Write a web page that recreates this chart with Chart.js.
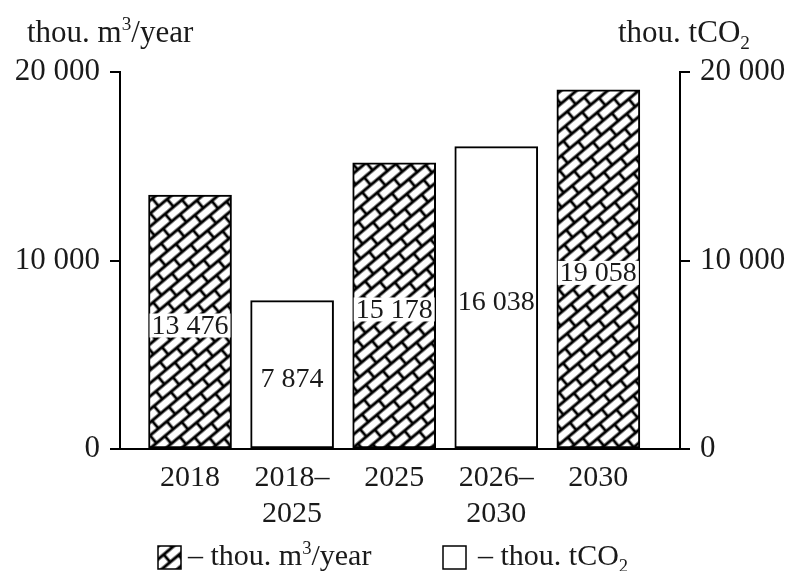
<!DOCTYPE html>
<html>
<head>
<meta charset="utf-8">
<script src="https://cdn.jsdelivr.net/npm/chart.js@4/dist/chart.umd.min.js"></script>
<style>
  html, body { margin: 0; padding: 0; background: #fff; }
  #wrap { width: 791px; height: 571px; }
</style>
</head>
<body>
<div id="wrap"><canvas id="chart" width="791" height="571"></canvas></div>
<script>
// data
const categories = ["2018", "2018–2025", "2025", "2026–2030", "2030"];
const volumeValues = [13476, null, 15178, null, 19058]; // thou. m3/year (hatched)
const co2Values = [null, 7874, null, 16038, null]; // thou. tCO2 (white)
const yTicks = [0, 10000, 20000];

const FONT = "'Liberation Serif', 'Times New Roman', serif";

// brick hatch pattern
function makeBrickPattern() {
  const c = document.createElement("canvas");
  const W = 22, H = 20;
  c.width = W;
  c.height = H;
  const g = c.getContext("2d");
  g.fillStyle = "#fff";
  g.fillRect(0, 0, W, H);
  g.strokeStyle = "#000";
  g.lineWidth = 2.8;
  g.beginPath();
  // long lines between brick rows
  g.moveTo(0, 0); g.lineTo(W, 0);
  g.moveTo(0, H / 2); g.lineTo(W, H / 2);
  g.moveTo(0, H); g.lineTo(W, H);
  // staggered joints
  g.moveTo(0, 0); g.lineTo(0, H / 2);
  g.moveTo(W, 0); g.lineTo(W, H / 2);
  g.moveTo(W / 2, H / 2); g.lineTo(W / 2, H);
  g.stroke();
  const ctx = document.getElementById("chart").getContext("2d");
  const p = ctx.createPattern(c, "repeat");
  p.setTransform(new DOMMatrix().rotate(-40));
  return p;
}
const brick = makeBrickPattern();

function fmt(v) {
  return String(v).replace(/\B(?=(\d{3})+(?!\d))/g, " ");
}

function toPoints(arr) {
  const out = [];
  arr.forEach((v, i) => {
    if (v !== null) out.push({ x: i, y: v });
  });
  return out;
}

// text with super/subscripts
function drawRich(ctx, parts, x, y, size) {
  let cx = x;
  parts.forEach((p) => {
    const s = p.sup || p.sub ? size * 0.62 : size;
    ctx.font = s + "px " + FONT;
    let dy = 0;
    if (p.sup) dy = -size * 0.38;
    if (p.sub) dy = size * 0.22;
    ctx.fillText(p.t, cx, y + dy);
    cx += ctx.measureText(p.t).width;
  });
}

const extrasPlugin = {
  id: "extras",
  afterDatasetsDraw(chart) {
    const ctx = chart.ctx;
    ctx.save();
    ctx.textAlign = "center";
    ctx.textBaseline = "middle";
    ctx.font = "28px " + FONT;
    chart.data.datasets.forEach((ds, di) => {
      const meta = chart.getDatasetMeta(di);
      meta.data.forEach((bar, i) => {
        const v = ds.data[i].y;
        const txt = fmt(v);
        const cy = (bar.y + bar.base) / 2 + 4;
        if (di === 0) {
          const w = ctx.measureText(txt).width + 4;
          ctx.fillStyle = "#fff";
          ctx.fillRect(bar.x - w / 2, cy - 12, w, 24);
        }
        ctx.fillStyle = "#1a1a1a";
        ctx.fillText(txt, bar.x, cy + 1);
      });
    });
    ctx.restore();
  },
  afterDraw(chart) {
    const ctx = chart.ctx;
    ctx.save();
    ctx.fillStyle = "#1a1a1a";
    ctx.textAlign = "left";
    ctx.textBaseline = "alphabetic";
    // axis titles
    drawRich(ctx, [{ t: "thou. m" }, { t: "3", sup: true }, { t: "/year" }], 27, 42, 31);
    drawRich(ctx, [{ t: "thou. tCO" }, { t: "2", sub: true }], 618, 42, 31);
    // legend
    ctx.lineWidth = 1.5;
    ctx.strokeStyle = "#000";
    ctx.fillStyle = brick;
    ctx.fillRect(158, 546, 23, 23);
    ctx.strokeRect(158, 546, 23, 23);
    ctx.fillStyle = "#fff";
    ctx.fillRect(443, 546, 23, 23);
    ctx.strokeRect(443, 546, 23, 23);
    ctx.fillStyle = "#1a1a1a";
    drawRich(ctx, [{ t: "– thou. m" }, { t: "3", sup: true }, { t: "/year" }], 188, 565, 30);
    drawRich(ctx, [{ t: "– thou. tCO" }, { t: "2", sub: true }], 478, 565, 30);
    ctx.restore();
  },
};

const yAxis = (pos, width) => ({
  position: pos,
  min: 0,
  max: 20000,
  afterBuildTicks: (s) => { s.ticks = yTicks.map((v) => ({ value: v })); },
  afterFit: (s) => { s.width = width; },
  ticks: {
    color: "#1a1a1a",
    font: { family: FONT, size: 31 },
    padding: 10,
    callback: (v) => fmt(v),
  },
  grid: { display: true, drawOnChartArea: false, drawTicks: true, tickLength: 10, color: "#000", lineWidth: 2 },
  border: { display: true, color: "#000", width: 2 },
});

new Chart(document.getElementById("chart"), {
  type: "bar",
  data: {
    datasets: [
      {
        label: "thou. m3/year",
        data: toPoints(volumeValues),
        yAxisID: "y",
        backgroundColor: brick,
        borderColor: "#000",
        borderWidth: 2,
        borderSkipped: false,
        barThickness: 83,
      },
      {
        label: "thou. tCO2",
        data: toPoints(co2Values),
        yAxisID: "y2",
        backgroundColor: "#fff",
        borderColor: "#000",
        borderWidth: 2,
        borderSkipped: false,
        barThickness: 83,
      },
    ],
  },
  options: {
    responsive: false,
    animation: false,
    layout: { padding: { top: 72, left: 0, right: 0, bottom: 0 } },
    datasets: { bar: { grouped: false } },
    scales: {
      x: {
        type: "linear",
        offset: false,
        min: -0.686,
        max: 4.8,
        afterBuildTicks: (s) => { s.ticks = categories.map((c, i) => ({ value: i })); },
        afterFit: (s) => { s.height = 122; },
        ticks: {
          color: "#1a1a1a",
          font: { family: FONT, size: 30, lineHeight: 1.17 },
          padding: 4,
          maxRotation: 0,
          autoSkip: false,
          callback: (v) => {
            const c = categories[v];
            if (c && c.indexOf("–") > 0) {
              const k = c.indexOf("–");
              return [c.slice(0, k + 1), c.slice(k + 1)];
            }
            return c;
          },
        },
        grid: { display: false, offset: false },
        border: { display: true, color: "#000", width: 2 },
      },
      y: yAxis("left", 120),
      y2: yAxis("right", 111),
    },
    plugins: {
      legend: { display: false },
      tooltip: { enabled: false },
    },
  },
  plugins: [extrasPlugin],
});
</script>
</body>
</html>
